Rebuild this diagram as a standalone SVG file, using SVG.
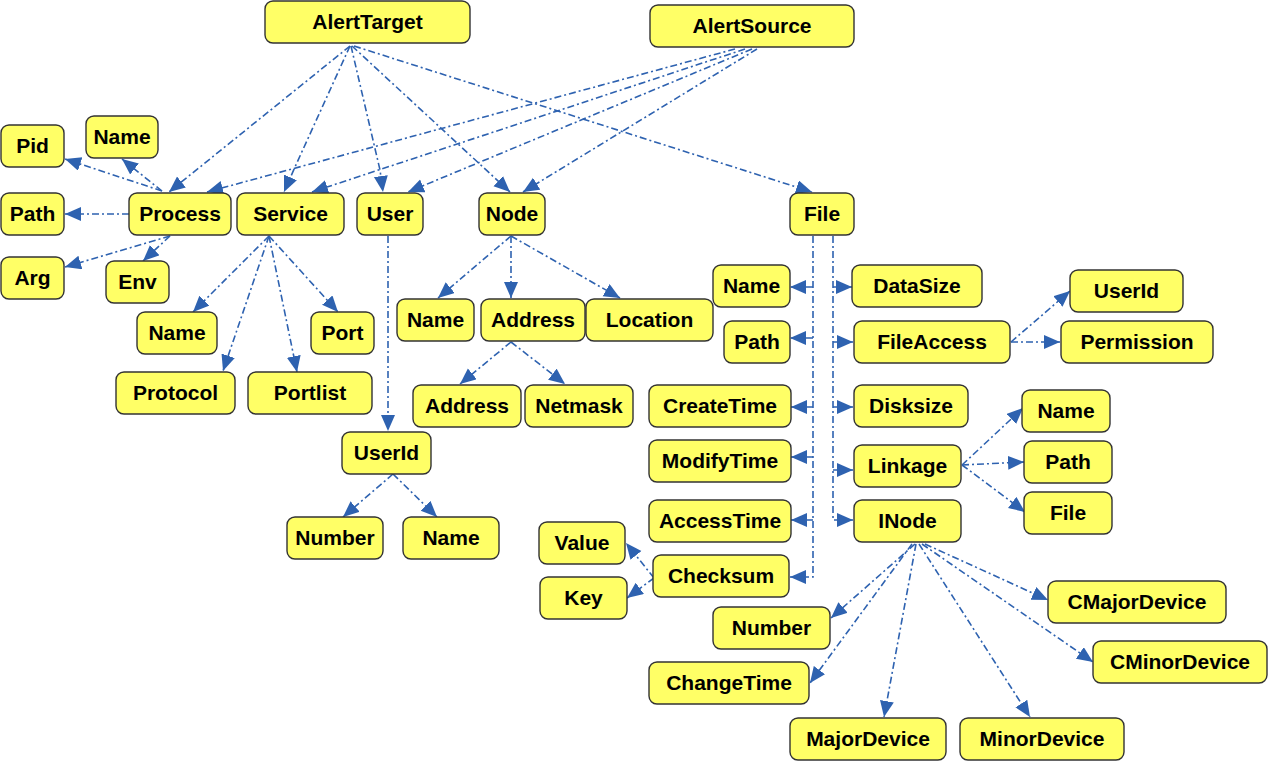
<svg xmlns="http://www.w3.org/2000/svg" width="1269" height="762" viewBox="0 0 1269 762">
<style>
.n rect{fill:#ffff66;stroke:#333;stroke-width:1.4}
.n text{font-family:"Liberation Sans",Arial,sans-serif;font-weight:bold;font-size:21px;fill:#000;text-anchor:middle}
.c path{fill:none;stroke:#2e62b0;stroke-width:1.6;stroke-dasharray:7,3,2,3;marker-end:url(#a)}
</style>
<defs>
<marker id="a" markerUnits="userSpaceOnUse" markerWidth="17" markerHeight="15" refX="16" refY="7" orient="auto">
<path d="M0,0 L16,7 L0,14 z" fill="#2e62b0"/>
</marker>
</defs>
<rect width="1269" height="762" fill="#fff"/>
<g class="c" id="connectors">
<path d="M350,46 L169,192"/>
<path d="M350,46 L295,167 L284,192"/>
<path d="M351,46 L380,170 L383,192"/>
<path d="M352,46 L510,192"/>
<path d="M354,46 L812,192"/>
<path d="M735,49 L207,192"/>
<path d="M745,49 L312,192"/>
<path d="M752,49 L408,192"/>
<path d="M757,49 L523,192"/>
<path d="M162,191 L65,159"/>
<path d="M162,191 L122,159"/>
<path d="M129,214 L65,214"/>
<path d="M170,236 L65,267"/>
<path d="M170,236 L143,261"/>
<path d="M269,236 L193,312"/>
<path d="M269,236 L223,371"/>
<path d="M269,236 L297,372"/>
<path d="M269,236 L338,312"/>
<path d="M388,236 L388,431"/>
<path d="M393,474 L343,517"/>
<path d="M393,474 L437,517"/>
<path d="M511,236 L438,298"/>
<path d="M511,236 L511,298"/>
<path d="M511,236 L620,298"/>
<path d="M511,342 L460,384"/>
<path d="M511,342 L565,384"/>
<path d="M813,236 L813,577 L790,577"/>
<path d="M813,287 L790,287"/>
<path d="M813,338 L790,338"/>
<path d="M813,407 L791,407"/>
<path d="M813,457 L791,457"/>
<path d="M813,520 L791,520"/>
<path d="M833,236 L833,520 L853,520"/>
<path d="M833,287 L852,287"/>
<path d="M833,342 L853,342"/>
<path d="M833,407 L853,407"/>
<path d="M833,470 L853,470"/>
<path d="M1011,342 L1070,291"/>
<path d="M1011,342 L1060,342"/>
<path d="M962,465 L1023,408"/>
<path d="M962,465 L1024,462"/>
<path d="M962,465 L1025,512"/>
<path d="M915,544 L831,618"/>
<path d="M912,544 L810,683"/>
<path d="M916,544 L884,717"/>
<path d="M919,544 L1030,717"/>
<path d="M922,544 L1093,662"/>
<path d="M925,544 L1048,600"/>
<path d="M654,578 L626,543"/>
<path d="M654,578 L627,598"/>
</g>
<g class="n" id="alertTarget"><rect x="265" y="1" width="205" height="42" rx="8"/><text x="367.5" y="29">AlertTarget</text></g>
<g class="n" id="alertSource"><rect x="650" y="5" width="204" height="42" rx="8"/><text x="752" y="33">AlertSource</text></g>
<g class="n" id="pid"><rect x="1" y="125" width="63" height="42" rx="8"/><text x="32.5" y="153">Pid</text></g>
<g class="n" id="procName"><rect x="86" y="116" width="72" height="42" rx="8"/><text x="122" y="144">Name</text></g>
<g class="n" id="procPath"><rect x="1" y="193" width="63" height="42" rx="8"/><text x="32.5" y="221">Path</text></g>
<g class="n" id="process"><rect x="129" y="193" width="102" height="42" rx="8"/><text x="180" y="221">Process</text></g>
<g class="n" id="service"><rect x="237" y="193" width="107" height="42" rx="8"/><text x="290.5" y="221">Service</text></g>
<g class="n" id="user"><rect x="357" y="193" width="66" height="42" rx="8"/><text x="390" y="221">User</text></g>
<g class="n" id="node"><rect x="479" y="193" width="66" height="42" rx="8"/><text x="512" y="221">Node</text></g>
<g class="n" id="file"><rect x="790" y="193" width="64" height="42" rx="8"/><text x="822" y="221">File</text></g>
<g class="n" id="arg"><rect x="1" y="257" width="63" height="42" rx="8"/><text x="32.5" y="285">Arg</text></g>
<g class="n" id="env"><rect x="106" y="261" width="63" height="42" rx="8"/><text x="137.5" y="289">Env</text></g>
<g class="n" id="svcName"><rect x="137" y="312" width="80" height="42" rx="8"/><text x="177" y="340">Name</text></g>
<g class="n" id="port"><rect x="311" y="312" width="63" height="42" rx="8"/><text x="342.5" y="340">Port</text></g>
<g class="n" id="protocol"><rect x="116" y="372" width="119" height="42" rx="8"/><text x="175.5" y="400">Protocol</text></g>
<g class="n" id="portlist"><rect x="248" y="372" width="124" height="42" rx="8"/><text x="310" y="400">Portlist</text></g>
<g class="n" id="userId"><rect x="342" y="432" width="89" height="42" rx="8"/><text x="386.5" y="460">UserId</text></g>
<g class="n" id="uidNumber"><rect x="287" y="517" width="96" height="42" rx="8"/><text x="335" y="545">Number</text></g>
<g class="n" id="uidName"><rect x="403" y="517" width="96" height="42" rx="8"/><text x="451" y="545">Name</text></g>
<g class="n" id="nodeName"><rect x="397" y="299" width="77" height="42" rx="8"/><text x="435.5" y="327">Name</text></g>
<g class="n" id="address"><rect x="481" y="299" width="104" height="42" rx="8"/><text x="533" y="327">Address</text></g>
<g class="n" id="location"><rect x="586" y="299" width="127" height="42" rx="8"/><text x="649.5" y="327">Location</text></g>
<g class="n" id="addrAddress"><rect x="413" y="385" width="108" height="42" rx="8"/><text x="467" y="413">Address</text></g>
<g class="n" id="netmask"><rect x="525" y="385" width="108" height="42" rx="8"/><text x="579" y="413">Netmask</text></g>
<g class="n" id="fileName"><rect x="713" y="265" width="77" height="42" rx="8"/><text x="751.5" y="293">Name</text></g>
<g class="n" id="dataSize"><rect x="852" y="265" width="130" height="42" rx="8"/><text x="917" y="293">DataSize</text></g>
<g class="n" id="faUserId"><rect x="1070" y="270" width="113" height="42" rx="8"/><text x="1126.5" y="298">UserId</text></g>
<g class="n" id="filePath"><rect x="724" y="321" width="66" height="42" rx="8"/><text x="757" y="349">Path</text></g>
<g class="n" id="fileAccess"><rect x="854" y="321" width="156" height="42" rx="8"/><text x="932" y="349">FileAccess</text></g>
<g class="n" id="permission"><rect x="1061" y="321" width="152" height="42" rx="8"/><text x="1137" y="349">Permission</text></g>
<g class="n" id="createTime"><rect x="649" y="385" width="142" height="42" rx="8"/><text x="720" y="413">CreateTime</text></g>
<g class="n" id="disksize"><rect x="854" y="385" width="114" height="42" rx="8"/><text x="911" y="413">Disksize</text></g>
<g class="n" id="lnkName"><rect x="1022" y="390" width="88" height="42" rx="8"/><text x="1066" y="418">Name</text></g>
<g class="n" id="modifyTime"><rect x="649" y="440" width="142" height="42" rx="8"/><text x="720" y="468">ModifyTime</text></g>
<g class="n" id="linkage"><rect x="854" y="445" width="107" height="42" rx="8"/><text x="907.5" y="473">Linkage</text></g>
<g class="n" id="lnkPath"><rect x="1024" y="441" width="88" height="42" rx="8"/><text x="1068" y="469">Path</text></g>
<g class="n" id="lnkFile"><rect x="1024" y="492" width="88" height="42" rx="8"/><text x="1068" y="520">File</text></g>
<g class="n" id="accessTime"><rect x="649" y="500" width="142" height="42" rx="8"/><text x="720" y="528">AccessTime</text></g>
<g class="n" id="inode"><rect x="854" y="500" width="107" height="42" rx="8"/><text x="907.5" y="528">INode</text></g>
<g class="n" id="value"><rect x="539" y="522" width="86" height="42" rx="8"/><text x="582" y="550">Value</text></g>
<g class="n" id="checksum"><rect x="653" y="555" width="136" height="42" rx="8"/><text x="721" y="583">Checksum</text></g>
<g class="n" id="key"><rect x="540" y="577" width="87" height="42" rx="8"/><text x="583.5" y="605">Key</text></g>
<g class="n" id="inNumber"><rect x="713" y="607" width="117" height="42" rx="8"/><text x="771.5" y="635">Number</text></g>
<g class="n" id="cMajorDevice"><rect x="1048" y="581" width="178" height="42" rx="8"/><text x="1137" y="609">CMajorDevice</text></g>
<g class="n" id="cMinorDevice"><rect x="1093" y="641" width="174" height="42" rx="8"/><text x="1180" y="669">CMinorDevice</text></g>
<g class="n" id="changeTime"><rect x="649" y="662" width="160" height="42" rx="8"/><text x="729" y="690">ChangeTime</text></g>
<g class="n" id="majorDevice"><rect x="790" y="718" width="156" height="42" rx="8"/><text x="868" y="746">MajorDevice</text></g>
<g class="n" id="minorDevice"><rect x="960" y="718" width="164" height="42" rx="8"/><text x="1042" y="746">MinorDevice</text></g>
</svg>
